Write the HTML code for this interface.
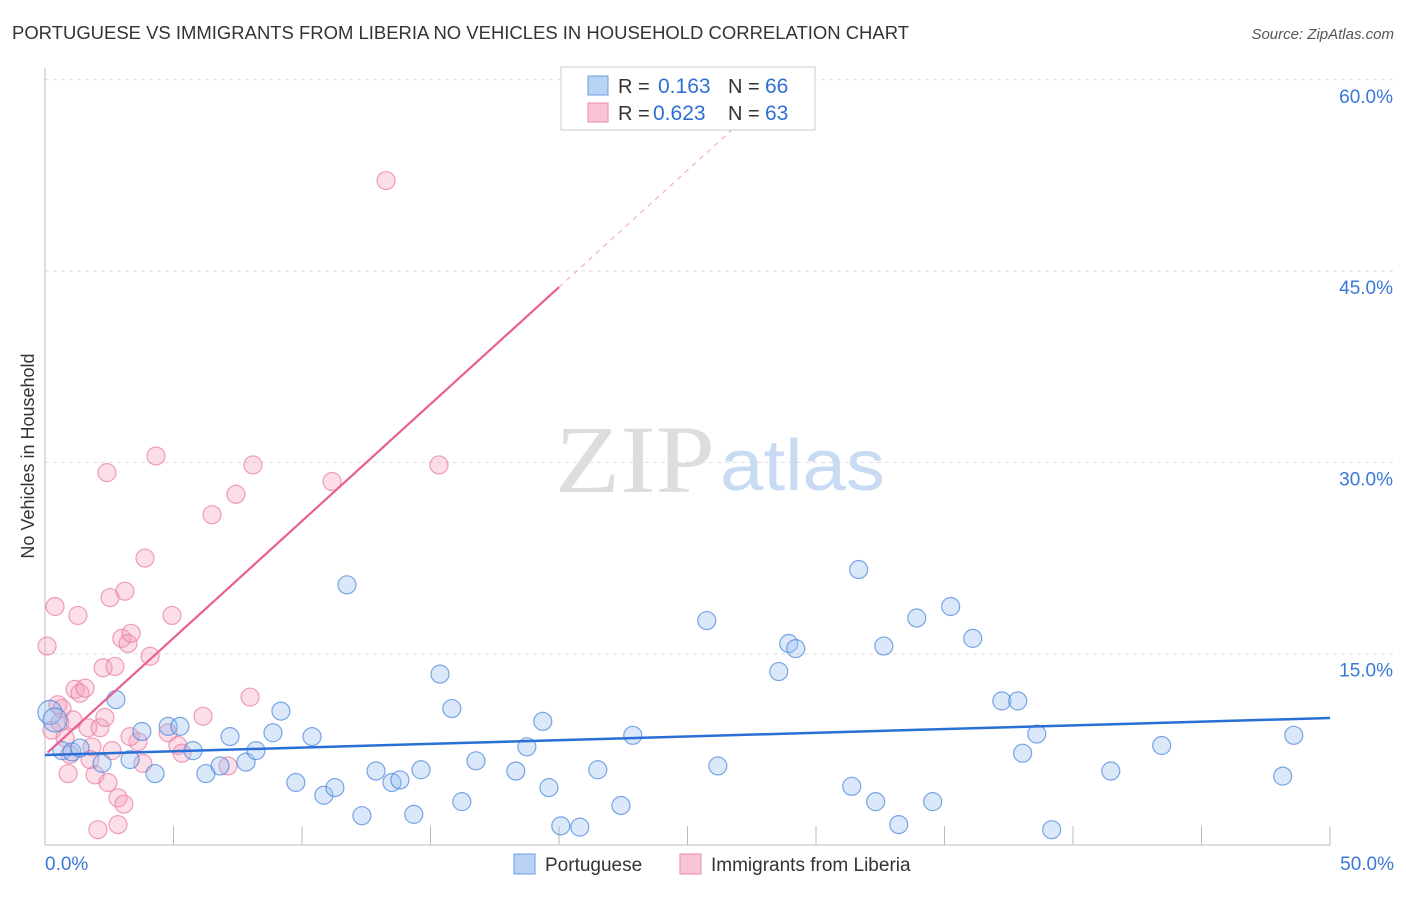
<!DOCTYPE html>
<html><head><meta charset="utf-8"><style>
body{margin:0;background:#fff;font-family:"Liberation Sans",sans-serif;}
svg text{font-family:"Liberation Sans",sans-serif;}
</style></head><body>
<svg width="1406" height="892" xmlns="http://www.w3.org/2000/svg">
<text x="12" y="39" font-size="18" fill="#333" textLength="897" lengthAdjust="spacingAndGlyphs">PORTUGUESE VS IMMIGRANTS FROM LIBERIA NO VEHICLES IN HOUSEHOLD CORRELATION CHART</text>
<text x="1394" y="39" font-size="15" fill="#555" font-style="italic" text-anchor="end">Source: ZipAtlas.com</text>
<text x="34" y="456" font-size="18" fill="#333" text-anchor="middle" transform="rotate(-90 34 456)">No Vehicles in Household</text>
<g id="grid"></g>
<text x="555" y="492" font-size="96" fill="#ddd" textLength="160" lengthAdjust="spacingAndGlyphs" style="font-family:'Liberation Serif',serif">ZIP</text>
<text x="720" y="490" font-size="72" fill="#c9daf3" textLength="165" lengthAdjust="spacingAndGlyphs">atlas</text>
<g id="pts"></g>
<g id="lines"></g>
<g>
<rect x="561" y="67" width="254" height="63" fill="#fff" stroke="#ccc"/>
<rect x="588" y="76" width="20" height="19" fill="#b9d3f5" stroke="#6a9ee0"/>
<rect x="588" y="103" width="20" height="19" fill="#f9c5d5" stroke="#ec8aaa"/>
<text x="618" y="93" font-size="20" fill="#333">R =</text>
<text x="658" y="93" font-size="21" fill="#2f6fd1">0.163</text>
<text x="728" y="93" font-size="20" fill="#333">N =</text>
<text x="765" y="93" font-size="21" fill="#2f6fd1">66</text>
<text x="618" y="120" font-size="20" fill="#333">R =</text>
<text x="653" y="120" font-size="21" fill="#2f6fd1">0.623</text>
<text x="728" y="120" font-size="20" fill="#333">N =</text>
<text x="765" y="120" font-size="21" fill="#2f6fd1">63</text>
</g>
<g>
<rect x="514" y="854" width="21" height="20" fill="#b9d3f5" stroke="#6a9ee0"/>
<text x="545" y="871" font-size="19" fill="#333">Portuguese</text>
<rect x="680" y="854" width="21" height="20" fill="#f9c5d5" stroke="#ec8aaa"/>
<text x="711" y="871" font-size="19" fill="#333">Immigrants from Liberia</text>
</g>
</svg>
<script>
const xTicks=[0,5,10,15,20,25,30,35,40,45,50];
const yTicks=[15,30,45,60];
const blueX=[0.19,0.39,0.66,1.05,1.36,2.22,2.76,3.31,3.77,4.28,4.79,5.25,5.76,6.26,6.81,7.2,7.82,8.21,8.87,9.18,9.76,10.39,10.85,11.28,11.75,12.33,12.88,13.5,13.81,14.35,14.63,15.37,15.83,16.22,16.77,18.32,18.75,19.37,19.61,20.07,20.81,21.51,22.41,22.87,25.75,26.18,28.55,28.94,29.21,31.39,31.66,32.32,32.64,33.22,33.92,34.54,35.24,36.1,37.23,37.85,38.04,38.59,39.17,41.47,43.45,48.16,48.59];
const blueY=[10.4,9.8,7.4,7.3,7.6,6.4,11.4,6.7,8.9,5.6,9.3,9.3,7.4,5.6,6.2,8.5,6.5,7.4,8.8,10.5,4.9,8.5,3.9,4.5,20.4,2.3,5.8,4.9,5.1,2.4,5.9,13.4,10.7,3.4,6.6,5.8,7.7,9.7,4.5,1.5,1.4,5.9,3.1,8.6,17.6,6.2,13.6,15.8,15.4,4.6,21.6,3.4,15.6,1.6,17.8,3.4,18.7,16.2,11.3,11.3,7.2,8.7,1.2,5.8,7.8,5.4,8.6];
const pinkX=[0.08,0.39,0.27,0.5,0.58,0.78,0.9,0.97,1.17,1.28,1.36,1.56,1.67,1.83,1.95,2.06,2.14,2.26,2.33,2.41,2.45,2.53,2.72,2.84,2.84,2.99,3.07,3.11,3.23,3.35,3.62,3.81,3.89,4.09,4.32,4.79,4.94,5.17,5.33,6.15,6.5,7.12,7.43,7.98,8.09,11.17,13.27,15.33,3.31,2.61,1.75,0.66,1.09];
const pinkY=[15.6,18.7,9.0,11.0,9.6,8.4,5.6,7.1,12.2,18.0,11.9,12.3,9.2,7.7,5.5,1.2,9.2,13.9,10.0,29.2,4.9,19.4,14.0,3.7,1.6,16.2,3.2,19.9,15.8,16.6,8.1,6.4,22.5,14.8,30.5,8.8,18.0,7.8,7.2,10.1,25.9,6.2,27.5,11.6,29.8,28.5,52.1,29.8,8.5,7.4,6.7,10.7,9.8];
const blueFit=[7.06,9.96];
const pinkFit=[7.06,1.834];
const NS='http://www.w3.org/2000/svg';
const X=v=>45+v/50*1285, Y=v=>845-v/15*191.3;
function mk(t,a,p){const e=document.createElementNS(NS,t);for(const k in a)e.setAttribute(k,a[k]);p.appendChild(e);return e;}
const g=document.getElementById('grid');
yTicks.forEach(t=>{
 const l=mk('line',{x1:45,x2:1394,y1:Y(t),y2:Y(t),stroke:'#ddd','stroke-dasharray':'4,4'},g);
 
 
 const tx=mk('text',{x:1393,y:Y(t)+23,'font-size':19,fill:'#3a78d8','text-anchor':'end'},g);
 tx.textContent=t.toFixed(1)+'%';
 
 
});
const ax=mk('line',{x1:45,x2:45,y1:68,y2:845,stroke:'#bbb'},g);


const bx=mk('line',{x1:45,x2:1330,y1:845,y2:845,stroke:'#bbb'},g);


xTicks.forEach(t=>{
 const l=mk('line',{x1:X(t),x2:X(t),y1:826,y2:845,stroke:'#bbb'},g);
 
 
});
[[0,'start'],[50,'end']].forEach(([t,a])=>{
 const tx=mk('text',{x:t?1394:45,y:870,'font-size':19,fill:'#3a78d8','text-anchor':a},g);
 tx.textContent=t.toFixed(1)+'%';
 
 
});
const p=document.getElementById('pts');
pinkX.forEach((x,i)=>{
 const c=mk('circle',{cx:X(x),cy:Y(pinkY[i]),r:9,fill:'rgba(244,160,188,0.35)',stroke:'rgba(232,120,160,0.7)','stroke-width':1.2},p);
 
 
});
blueX.forEach((x,i)=>{
 const c=mk('circle',{cx:X(x),cy:Y(blueY[i]),r:i<2?12:9,fill:'rgba(150,190,240,0.35)',stroke:'rgba(70,130,220,0.7)','stroke-width':1.2},p);
 
 
});
const L=document.getElementById('lines');
const bl=mk('line',{x1:X(0),y1:Y(blueFit[0]),x2:X(50),y2:Y(blueFit[1]),stroke:'#2a6fd6','stroke-width':2.5},L);


const pl=mk('line',{x1:X(0.1),y1:Y(pinkFit[0]+0.1*pinkFit[1]),x2:X(20),y2:Y(pinkFit[0]+20*pinkFit[1]),stroke:'#e8618e','stroke-width':2.2},L);


const pd=mk('line',{x1:X(20),y1:Y(pinkFit[0]+20*pinkFit[1]),x2:X(28),y2:Y(pinkFit[0]+28*pinkFit[1]),stroke:'#f0a0bc','stroke-width':1,'stroke-dasharray':'5,5'},L);


</script>
</body></html>
